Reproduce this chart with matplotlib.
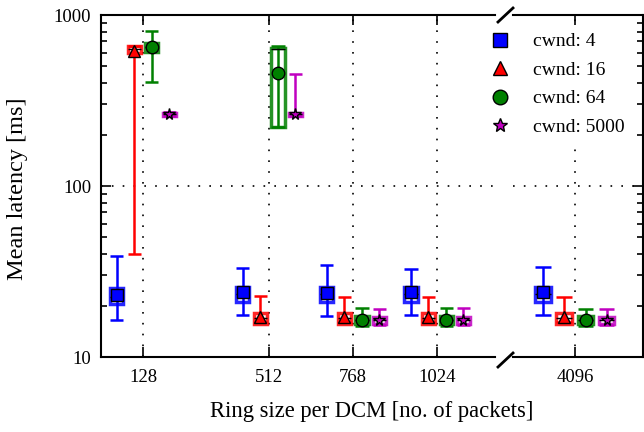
import matplotlib
matplotlib.use("Agg")
import matplotlib.pyplot as plt
from matplotlib.lines import Line2D
from matplotlib.patches import Rectangle
from matplotlib.ticker import LogLocator, NullFormatter, FixedLocator, FixedFormatter

plt.rcParams['font.family'] = ['Liberation Serif', 'DejaVu Serif']

ring_sizes = [128, 512, 768, 1024, 4096]
tick_labels = ['128', '512', '768', '1024', '4096']
series_labels = ['cwnd: 4', 'cwnd: 16', 'cwnd: 64', 'cwnd: 5000']

# one row per cwnd, one column per ring size
whisker_low = [
    [16.5, 17.6, 17.4, 17.6, 17.6],
    [40.0, 16.0, 16.0, 16.0, 16.0],
    [405, 220, 15.2, 15.2, 15.2],
    [255, 255, 15.3, 15.3, 15.3],
]
box_q1 = [
    [20.5, 21.0, 21.0, 21.0, 21.0],
    [600, 15.6, 15.6, 15.6, 15.6],
    [610, 222, 15.5, 15.5, 15.5],
    [257, 257, 15.6, 15.6, 15.6],
]
box_median = [
    [22.5, 23.5, 23.5, 23.5, 23.5],
    [630, 17.0, 17.0, 17.0, 17.0],
    [650, 630, 16.5, 16.5, 16.5],
    [262, 262, 16.4, 16.4, 16.4],
]
box_q3 = [
    [25.3, 25.6, 25.6, 25.6, 25.6],
    [655, 18.2, 18.2, 18.2, 18.2],
    [690, 645, 17.4, 17.4, 17.4],
    [267, 268, 17.1, 17.1, 17.1],
]
whisker_high = [
    [39.0, 33.0, 34.5, 32.7, 33.6],
    [660, 22.6, 22.5, 22.5, 22.3],
    [806, 660, 19.3, 19.4, 19.1],
    [270, 452, 19.0, 19.4, 19.1],
]
mean_latency = [
    [23.0, 24.0, 23.8, 24.0, 24.0],
    [615, 17.1, 17.1, 17.1, 17.1],
    [650, 460, 16.4, 16.4, 16.4],
    [262, 265, 16.4, 16.4, 16.4],
]

colors = ['#0000ff', '#ff0000', '#008000', '#c000c0']
markers = ['s', '^', 'o', '*']
marker_sizes = [8.5, 8.5, 9, 8.5]
offsets = [-80, -27, 27, 80]
box_w = 40

fig = plt.figure(figsize=(6.44, 4.32), dpi=100)
ax_l = fig.add_axes([101 / 644, 75 / 432, 394 / 644, 342 / 432])
ax_r = fig.add_axes([513 / 644, 75 / 432, 130 / 644, 342 / 432], sharey=ax_l)

dots = (0, (1, 5.5))
for ax in (ax_l, ax_r):
    ax.set_yscale('log')
    ax.set_ylim(10, 1000)
    ax.set_xticks(ring_sizes)
    ax.set_xticklabels(tick_labels)
    ax.grid(axis='x', color='k', linestyle=dots, linewidth=1.2)
    ax.axhline(100, color='k', linestyle=dots, linewidth=1.2, zorder=1)
    ax.yaxis.set_major_locator(FixedLocator([10, 100, 1000]))
    ax.yaxis.set_minor_locator(LogLocator(base=10, subs=range(2, 10)))
    ax.yaxis.set_minor_formatter(NullFormatter())
    ax.tick_params(which='both', direction='in', top=True, labelsize=13.5, width=1.2)
    ax.tick_params(which='major', length=7)
    ax.tick_params(which='minor', length=4)
    ax.tick_params(axis='x', pad=9)
    ax.tick_params(axis='y', pad=7)
    for s in ax.spines.values():
        s.set_linewidth(1.5)

ax_l.set_xlim(0, 1200)
ax_r.set_xlim(3940, 4268)
ax_l.yaxis.set_major_formatter(FixedFormatter(['10', '100', '1000']))
ax_l.tick_params(axis='y', which='both', right=False)
ax_r.tick_params(axis='y', which='both', left=False, right=True, labelleft=False)
ax_l.spines['right'].set_visible(False)
ax_r.spines['left'].set_visible(False)

for i in range(len(series_labels)):
    c = colors[i]
    for j, size in enumerate(ring_sizes):
        ax = ax_r if size > 2000 else ax_l
        x = size + offsets[i]
        lo, q1, med = whisker_low[i][j], box_q1[i][j], box_median[i][j]
        q3, hi = box_q3[i][j], whisker_high[i][j]
        ax.vlines(x, lo, hi, color=c, linewidth=1.8, zorder=3)
        ax.hlines([lo, hi], x - box_w / 2, x + box_w / 2, color=c, linewidth=1.8, zorder=3)
        ax.add_patch(Rectangle((x - box_w / 2, q1), box_w, q3 - q1, fill=False,
                               edgecolor=c, linewidth=2.5, alpha=0.85, zorder=3))
        ax.hlines(med, x - box_w / 2, x + box_w / 2, color='k', linewidth=1, zorder=4)
        ax.plot(x, mean_latency[i][j], marker=markers[i], color=c, markeredgecolor='k',
                markersize=marker_sizes[i], markeredgewidth=1, zorder=5)

fig.text(18 / 644, 1 - 189 / 432, 'Mean latency [ms]', rotation=90,
         ha='center', va='center', fontsize=17.5)
fig.text((101 + 643) / 2 / 644, 1 - 411 / 432, 'Ring size per DCM [no. of packets]',
         ha='center', va='center', fontsize=16.3)

# break marks on the x axis
for yc in (15, 360):
    fig.add_artist(Line2D([498 / 644, 513 / 644], [1 - (yc + 7) / 432, 1 - (yc - 7) / 432],
                          color='k', linewidth=2))

handles = [Line2D([], [], linestyle='none', marker=markers[i], color=colors[i],
                  markeredgecolor='k', markersize=marker_sizes[i] + 1.5)
           for i in range(len(series_labels))]
leg = fig.legend(handles, series_labels, loc='upper left',
                 bbox_to_anchor=(482 / 644, 1 - 27 / 432), fontsize=14,
                 frameon=True, framealpha=1, edgecolor='none', facecolor='white',
                 handlelength=1.2, handletextpad=1.1, labelspacing=0.56,
                 borderpad=0.3, borderaxespad=0)

fig.savefig('out.png', dpi=100)
